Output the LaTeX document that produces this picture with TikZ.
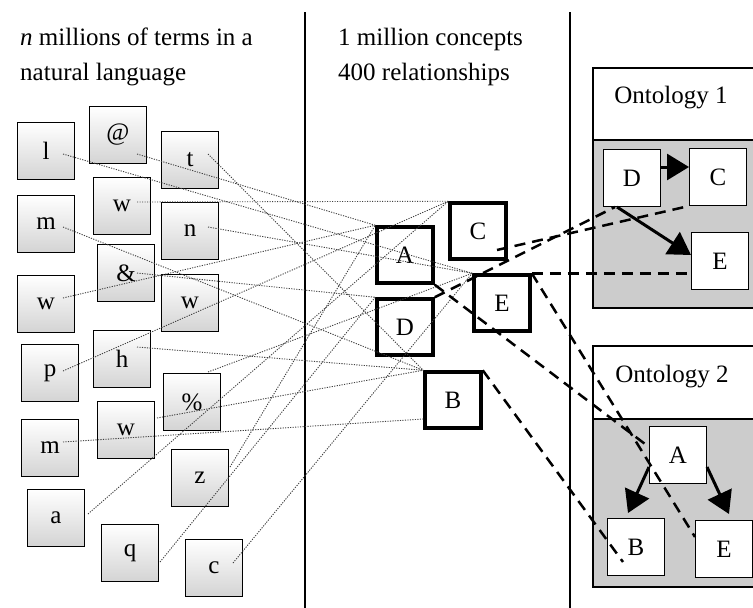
\documentclass[tikz,border=0pt]{standalone}
\usepackage{fontspec}
\setmainfont{Liberation Serif}
\usetikzlibrary{arrows.meta,calc}
\begin{document}
\begin{tikzpicture}[x=1pt,y=-1pt,
  every node/.style={font=\fontsize{25}{30}\selectfont},
  term/.style={draw=black,line width=1.5pt,top color=white,bottom color=black!17,minimum width=57pt,minimum height=57pt,inner sep=0pt},
  concept/.style={draw=black,line width=3.5pt,minimum width=56pt,minimum height=56pt,inner sep=0pt},
  onode/.style={draw=black,line width=1pt,fill=white,minimum width=57pt,minimum height=57pt,inner sep=0pt},
  link/.style={black!75,line width=0.9pt,dash pattern=on 1.2pt off 1.3pt},
  mapline/.style={black,line width=2.5pt,dash pattern=on 11pt off 7pt},
  rel/.style={black,line width=3pt,-{Triangle[length=22pt,width=26pt]}},
  divider/.style={black,line width=1.5pt},
  panel/.style={draw=black,line width=1.2pt},
  heading/.style={anchor=base west,inner sep=0pt}
]
\useasboundingbox (0,0) rectangle (753,608);

% column dividers
\draw[divider] (305,12) coordinate (v1t) -- (305,608) coordinate (v1b);
\draw[divider] (570,12) coordinate (v2t) -- (570,608) coordinate (v2b);

% headings
\node[heading] (h1) at (20,45) {\textit{n} millions of terms in a};
\node[heading] (h2) at (20,80) {natural language};
\node[heading] (h3) at (338,45) {1 million concepts};
\node[heading] (h4) at (338,80) {400 relationships};

% term boxes
\node[term] (tl) at (46,151) {l};
\node[term] (tat) at (118,135) {@};
\node[term] (tt) at (190,160) {t};
\node[term] (tw2) at (122,206) {w};
\node[term] (tm) at (46,224) {m};
\node[term] (tn) at (190,231) {n};
\node[term] (tamp) at (126,273) {\&};
\node[term] (twL) at (46,304) {w};
\node[term] (twR) at (190,303) {w};
\node[term] (tp) at (50,373) {p};
\node[term] (th) at (122,359) {h};
\node[term] (tpc) at (192,402) {\%};
\node[term] (twLo) at (126,430) {w};
\node[term] (tmLo) at (50,448) {m};
\node[term] (tz) at (200,478) {z};
\node[term] (ta) at (56,518) {a};
\node[term] (tq) at (130,553) {q};
\node[term] (tc) at (214,568) {c};

% concept boxes
\node[concept] (C) at (478,231) {C};
\node[concept] (A) at (405,255) {A};
\node[concept] (E) at (502,303) {E};
\node[concept] (D) at (405,327) {D};
\node[concept] (B) at (453,400) {B};

% link starts
\coordinate (sl) at (63,154);
\coordinate (sat) at (137,154);
\coordinate (st) at (208,154);
\coordinate (sw2) at (137,202);
\coordinate (sm) at (63,227);
\coordinate (sn) at (208,227);
\coordinate (samp) at (137,273);
\coordinate (swL) at (63,298);
\coordinate (sp) at (63,371);
\coordinate (sh) at (137,347);
\coordinate (spc) at (208,372);
\coordinate (swLo) at (157,418);
\coordinate (smLo) at (63,442);
\coordinate (sz) at (230,467);
\coordinate (sa) at (88,514);
\coordinate (sq) at (160,562);
\coordinate (sc) at (233,563);

% term -> concept links
\draw[link] (sw2) -- (C.north west);
\draw[link] (sp) -- (C.north west);
\draw[link] (sa) -- (C.north west);
\draw[link] (sat) -- (A.north west);
\draw[link] (swL) -- (A.north west);
\draw[link] (sz) -- (A.north west);
\draw[link] (sl) -- (E.north west);
\draw[link] (sn) -- (E.north west);
\draw[link] (sc) -- (E.north west);
\draw[link] (spc) -- (E.north west);
\draw[link] (samp) -- (D.north west);
\draw[link] (sq) -- (D.north west);
\draw[link] (st) -- (B.north west);
\draw[link] (sm) -- (B.north west);
\draw[link] (sh) -- (B.north west);
\draw[link] (swLo) -- (B.north west);
\draw[link] (smLo) -- ([yshift=-19pt]B.west);

% ontology panels
\fill[black!20] (593,140) rectangle (770,308);
\draw[panel] (593,68) rectangle (770,308);
\draw[panel] (593,140) -- (770,140);
\node[anchor=base] (o1) at (671,103) {Ontology 1};

\fill[black!20] (593,419) rectangle (770,587);
\draw[panel] (593,346) rectangle (770,587);
\draw[panel] (593,419) -- (770,419);
\node[anchor=base] (o2) at (672,382) {Ontology 2};

% ontology nodes
\node[onode] (D1) at (632,178) {D};
\node[onode] (C1) at (718,177) {C};
\node[onode] (E1) at (720,261) {E};
\node[onode] (A2) at (678,455) {A};
\node[onode] (B2) at (636,547) {B};
\node[onode] (E2) at (724,549) {E};

% relations
\draw[rel] ([yshift=11pt]D1.east) -- ([yshift=10pt]C1.west);
\draw[rel] ([xshift=-15pt]D1.south) -- ([yshift=6pt]E1.west);
\draw[rel] ([yshift=-12pt]A2.west) -- ([xshift=-8pt,yshift=5pt]B2.north);
\draw[rel] ([yshift=-12pt]A2.east) -- ([xshift=5pt,yshift=6pt]E2.north);

% concept -> ontology mappings
\draw[mapline] ([shift={(19pt,-19pt)}]C.center) -- (C1.south west);
\draw[mapline] (D.north east) -- ([xshift=-17pt]D1.south);
\draw[mapline] (E.north east) -- (E.north east -| E1.west);
\draw[mapline] (E.north east) -- ([yshift=12pt]E2.west);
\draw[mapline] (A.south east) -- ([yshift=8pt]A2.west);
\draw[mapline] (B.north east) -- ([shift={(-13pt,-15pt)}]B2.center);
\end{tikzpicture}
\end{document}
